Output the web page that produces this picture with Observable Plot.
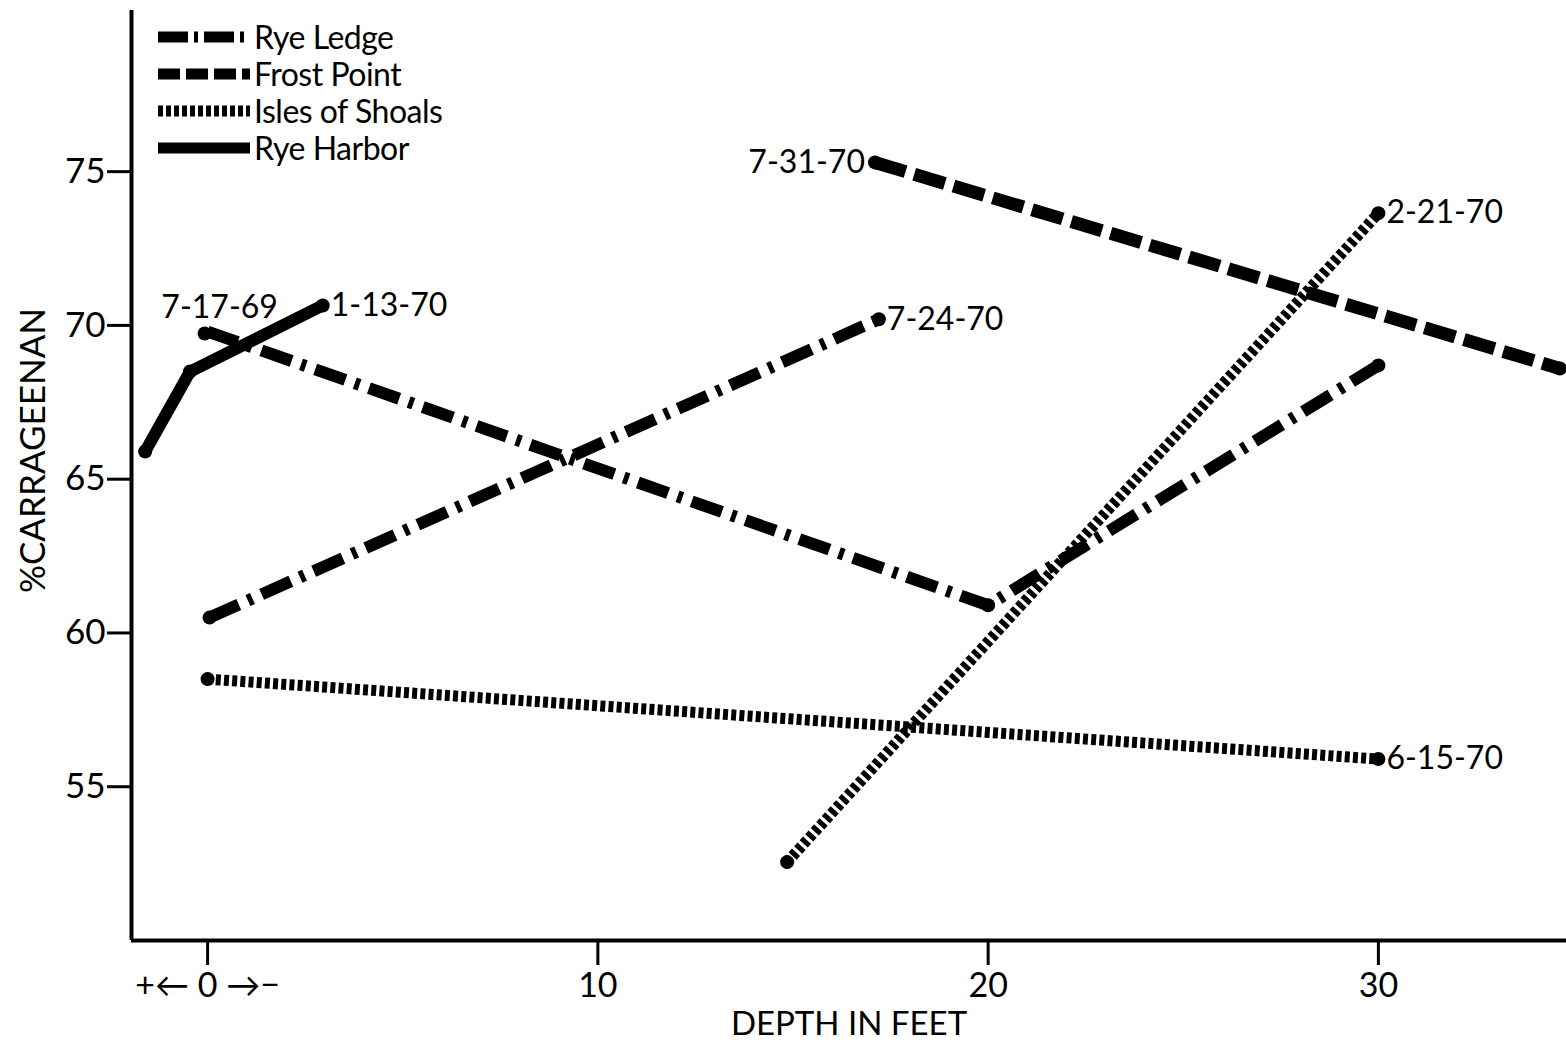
<!DOCTYPE html>
<html><head><meta charset="utf-8">
<script src="https://cdn.jsdelivr.net/npm/d3@7"></script>
<script src="https://cdn.jsdelivr.net/npm/@observablehq/plot@0.6"></script>
<style>
body{margin:0;background:#fff;}
#wrap{position:relative;width:1566px;height:1043px;font-family:Lato,"DejaVu Sans",sans-serif;}
#legend{position:absolute;left:158px;top:18px;}
.row{display:flex;align-items:center;height:37px;font-size:32px;color:#000;letter-spacing:-0.5px;}
.row svg{margin-right:4px;}
</style></head><body><div id="wrap"><div id="legend"></div></div>
<script>
// ---- data ----
const stations = ["Rye Ledge", "Frost Point", "Isles of Shoals", "Rye Harbor"];
const xTicks = [0, 10, 20, 30];
const xTickLabels = ["+\u2190 0 \u2192\u2212", "10", "20", "30"];
const yTicks = [55, 60, 65, 70, 75];
const xTitle = "DEPTH IN FEET";
const yTitle = "%CARRAGEENAN";

// Rye Ledge
const ryeLedge1Date = "7-17-69";
const ryeLedge1Depth = [0, 20, 30];
const ryeLedge1Value = [69.8, 60.9, 68.7];
const ryeLedge2Date = "7-24-70";
const ryeLedge2Depth = [0.05, 17.2];
const ryeLedge2Value = [60.5, 70.2];
// Frost Point
const frostDate = "7-31-70";
const frostDepth = [17.1, 34.65];
const frostValue = [75.3, 68.6];
// Isles of Shoals
const shoals1Date = "6-15-70";
const shoals1Depth = [0, 30];
const shoals1Value = [58.5, 55.9];
const shoals2Date = "2-21-70";
const shoals2Depth = [14.85, 30];
const shoals2Value = [52.55, 73.65];
// Rye Harbor
const harborDate = "1-13-70";
const harborDepth = [-1.6, -0.45, 2.95];
const harborValue = [65.9, 68.5, 70.65];

// ---- build tables ----
const rows = (station, date, depths, values) =>
  depths.map((d, i) => ({station, date, depth: d, value: values[i]}));
const ryeLedge = [...rows(stations[0], ryeLedge1Date, ryeLedge1Depth, ryeLedge1Value),
                  ...rows(stations[0], ryeLedge2Date, ryeLedge2Depth, ryeLedge2Value)];
const frost = rows(stations[1], frostDate, frostDepth, frostValue);
const shoals = [...rows(stations[2], shoals1Date, shoals1Depth, shoals1Value),
                ...rows(stations[2], shoals2Date, shoals2Depth, shoals2Value)];
const harbor = rows(stations[3], harborDate, harborDepth, harborValue);

const dotsData = [...ryeLedge.slice(1), ...frost, ...shoals, ...harbor];

const labelsLeft = [{...frost[0], text: frostDate}];
const labelsRight = [
  {...harbor[2], text: harborDate},
  {...ryeLedge[4], text: ryeLedge2Date},
  {...shoals[3], text: shoals2Date},
  {...shoals[1], text: shoals1Date}
];
const labelsAbove = [{...ryeLedge[0], text: ryeLedge1Date}];

const xDomain = [-1.95, 34.82];
const yDomain = [50, 80.24];
const FONT = 'Lato, "DejaVu Sans", sans-serif';

const styles = {
  "Rye Ledge": {dash: "32,10,5,10", width: 12},
  "Frost Point": {dash: "32,9", width: 13},
  "Isles of Shoals": {dash: "5,3.2", width: 11},
  "Rye Harbor": {dash: null, width: 12}
};

const lineMark = (data, st) => Plot.line(data, {
  x: "depth", y: "value", z: "date", stroke: "black",
  strokeWidth: styles[st].width,
  strokeDasharray: styles[st].dash || undefined,
  strokeLinecap: "butt"
});

const labelFont = {fontSize: 32, letterSpacing: -2.2};

const chart = Plot.plot({
  width: 1566, height: 1043,
  marginLeft: 131, marginRight: 0, marginTop: 10, marginBottom: 103,
  style: {fontFamily: FONT, color: "black", background: "white", overflow: "visible"},
  x: {domain: xDomain},
  y: {domain: yDomain},
  marks: [
    Plot.ruleX([xDomain[0]], {strokeWidth: 4}),
    Plot.ruleY([yDomain[0]], {strokeWidth: 4}),
    Plot.axisX(xTicks, {tickSize: 25, tickPadding: 7, strokeWidth: 3, fontSize: 34,
      tickFormat: d => xTickLabels[xTicks.indexOf(d)], label: null}),
    Plot.axisY(yTicks, {tickSize: 24, tickPadding: 2, strokeWidth: 3, fontSize: 35, label: null}),
    Plot.text([xTitle], {frameAnchor: "bottom", dy: 94, fontSize: 33, text: d => d}),
    Plot.text([yTitle], {frameAnchor: "left", textAnchor: "middle", rotate: -90, dx: -98, dy: -25, fontSize: 35, text: d => d}),
    lineMark(ryeLedge, "Rye Ledge"),
    lineMark(frost, "Frost Point"),
    lineMark(shoals, "Isles of Shoals"),
    Plot.line(harbor, {x: "depth", y: "value", stroke: "black", strokeWidth: 12, strokeLinecap: "round"}),
    Plot.dot(dotsData, {x: "depth", y: "value", r: 7, fill: "black"}),
    Plot.dot(labelsAbove, {x: "depth", y: "value", r: 7, fill: "black", dx: -3, dy: 2}),
    Plot.text(labelsLeft, {x: "depth", y: "value", text: "text", textAnchor: "end", dx: -10, ...labelFont}),
    Plot.text(labelsRight, {x: "depth", y: "value", text: "text", textAnchor: "start", dx: 8, ...labelFont}),
    Plot.text(labelsAbove, {x: "depth", y: "value", text: "text", textAnchor: "middle", dx: 12, dy: -24, ...labelFont})
  ]
});
document.getElementById("wrap").appendChild(chart);

// legend
const legend = d3.select("#legend");
const swatchDash = {
  "Rye Ledge": "30,6,4,6",
  "Frost Point": "22,6",
  "Isles of Shoals": "5,3",
  "Rye Harbor": null
};
stations.forEach(st => {
  const row = legend.append("div").attr("class", "row");
  const svg = row.append("svg").attr("width", 92).attr("height", 20);
  const ln = svg.append("line").attr("x1", 0).attr("x2", 92).attr("y1", 10).attr("y2", 10)
    .attr("stroke", "black").attr("stroke-width", 11);
  if (swatchDash[st]) ln.attr("stroke-dasharray", swatchDash[st]);
  row.append("span").text(st);
});
</script>
</body></html>
